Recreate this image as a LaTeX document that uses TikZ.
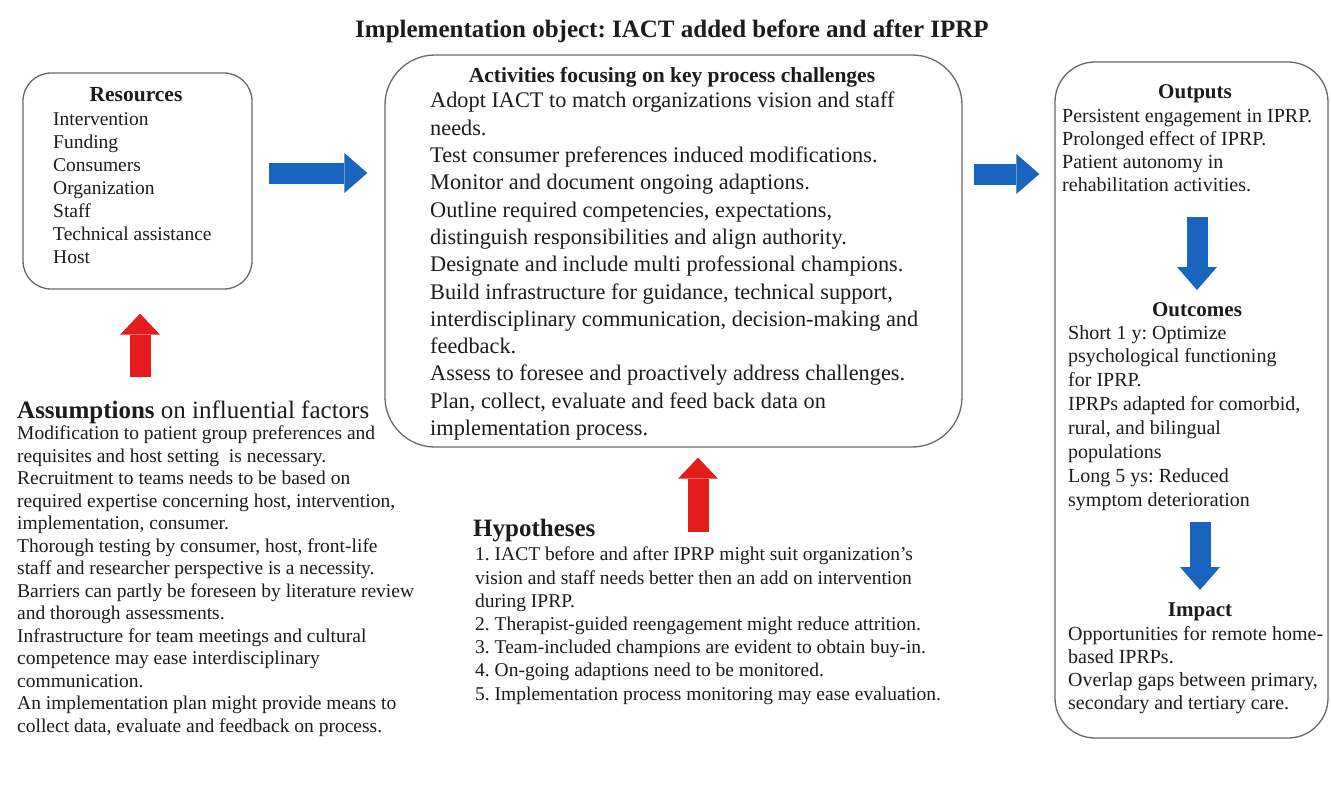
\documentclass[tikz,border=0pt]{standalone}
\usepackage{fontspec}
\setmainfont{Liberation Serif}
\usetikzlibrary{arrows.meta,calc}
\definecolor{arrowblue}{RGB}{24,100,190}
\definecolor{arrowred}{RGB}{228,28,28}
\definecolor{boxgray}{RGB}{105,105,105}
\definecolor{textcol}{RGB}{28,28,28}
\frenchspacing
\begin{document}
\begin{tikzpicture}[x=1pt,y=-1pt,
  frame/.style={draw=boxgray, line width=1.3pt, inner sep=0pt},
  ttl/.style={font=\fontsize{21.5}{25}\selectfont\bfseries, text=textcol, inner sep=0pt, anchor=base},
  body/.style={font=\fontsize{19.5}{23}\selectfont, text=textcol, inner sep=0pt, anchor=north west, align=left},
  head/.style={font=\fontsize{25}{28}\selectfont, text=textcol, inner sep=0pt, anchor=base west},
  barrow/.style={draw=arrowblue, line width=21pt, -{Triangle[width=40pt,length=23pt,line width=0pt,fill=arrowblue]}},
  rarrow/.style={draw=arrowred, line width=21pt, -{Triangle[width=40pt,length=21pt,line width=0pt,fill=arrowred]}}]
\useasboundingbox (0,0) rectangle (1331,785);
\fill[white] (0,0) rectangle (1331,785);

% title
\node[font=\fontsize{25}{28}\selectfont\bfseries, text=textcol, inner sep=0pt, anchor=base] (title) at (672,37) {Implementation object: IACT added before and after IPRP};

% frames
\node[frame, rounded corners=28pt, minimum width=229pt, minimum height=216pt] (res) at (137.5,181) {};
\node[frame, rounded corners=50pt, minimum width=577pt, minimum height=392pt] (act) at (673.5,251) {};
\node[frame, rounded corners=40pt, minimum width=273pt, minimum height=676pt] (out) at (1191.5,400) {};

% resources
\node[ttl] (restitle) at (136,101) {Resources};
\node[body] (restext) at (53,112) {Intervention\\Funding\\Consumers\\Organization\\Staff\\Technical assistance\\Host};

% activities
\node[ttl] (acttitle) at (672,82) {Activities focusing on key process challenges};
\node[body, font=\fontsize{22.3}{27.3}\selectfont] (acttext) at (430,92) {Adopt IACT to match organizations vision and staff\\
needs.\\
Test consumer preferences induced modifications.\\
Monitor and document ongoing adaptions.\\
Outline required competencies, expectations,\\
distinguish responsibilities and align authority.\\
Designate and include multi professional champions.\\
Build infrastructure for guidance, technical support,\\
interdisciplinary communication, decision-making and\\
feedback.\\
Assess to foresee and proactively address challenges.\\
Plan, collect, evaluate and feed back data on\\
implementation process.};

% outputs column
\node[ttl, font=\fontsize{21}{25}\selectfont\bfseries] (outtitle) at (1195,98) {Outputs};
\node[body, font=\fontsize{20}{23}\selectfont] (outtext) at (1062,109) {Persistent engagement in IPRP.\\Prolonged effect of IPRP.\\Patient autonomy in\\rehabilitation activities.};
\node[ttl, font=\fontsize{21}{25}\selectfont\bfseries] (outctitle) at (1197,316) {Outcomes};
\node[body, font=\fontsize{20}{23.9}\selectfont] (outctext) at (1068,325) {Short 1 y: Optimize\\psychological functioning\\for IPRP.\\IPRPs adapted for comorbid,\\rural, and bilingual\\populations\\Long 5 ys: Reduced\\symptom deterioration};
\node[ttl, font=\fontsize{21}{25}\selectfont\bfseries] (imptitle) at (1200,616) {Impact};
\node[body, font=\fontsize{20}{23}\selectfont] (imptext) at (1068,626) {Opportunities for remote home-\\based IPRPs.\\Overlap gaps between primary,\\secondary and tertiary care.};

% assumptions
\node[head] (asmtitle) at (17,418) {\textbf{Assumptions} on influential factors};
\node[body, font=\fontsize{19.5}{22.5}\selectfont] (asmtext) at (17,426) {Modification to patient group preferences and\\
requisites and host setting\ \ is necessary.\\
Recruitment to teams needs to be based on\\
required expertise concerning host, intervention,\\
implementation, consumer.\\
Thorough testing by consumer, host, front-life\\
staff and researcher perspective is a necessity.\\
Barriers can partly be foreseen by literature review\\
and thorough assessments.\\
Infrastructure for team meetings and cultural\\
competence may ease interdisciplinary\\
communication.\\
An implementation plan might provide means to\\
collect data, evaluate and feedback on process.};

% hypotheses
\node[head, font=\fontsize{25}{28}\selectfont\bfseries] (hyptitle) at (473,536) {Hypotheses};
\node[body, font=\fontsize{19.5}{23.2}\selectfont] (hyptext) at (475,547) {1. IACT before and after IPRP might suit organization’s\\
vision and staff needs better then an add on intervention\\
during IPRP.\\
2. Therapist-guided reengagement might reduce attrition.\\
3. Team-included champions are evident to obtain buy-in.\\
4. On-going adaptions need to be monitored.\\
5. Implementation process monitoring may ease evaluation.};

% arrow end points
\coordinate (b1s) at ($(res.east)+(16,-8)$);
\coordinate (b1e) at ($(act.west)+(-17,-78)$);
\coordinate (b2s) at ($(act.east)+(11,-77)$);
\coordinate (b2e) at ($(out.west)+(-15,-226)$);
\coordinate (d1s) at (1197,217);
\coordinate (d1e) at (1197,290);
\coordinate (d2s) at (1200,522);
\coordinate (d2e) at (1200,590);
\coordinate (r1s) at (140,377);
\coordinate (r1e) at ($(res.south)+(2.5,24)$);
\coordinate (r2s) at (698,532);
\coordinate (r2e) at ($(act.south)+(24.5,10)$);

\draw[barrow] (b1s) -- (b1e);
\draw[barrow] (b2s) -- (b2e);
\draw[barrow] (d1s) -- (d1e);
\draw[barrow] (d2s) -- (d2e);
\draw[rarrow] (r1s) -- (r1e);
\draw[rarrow] (r2s) -- (r2e);
\end{tikzpicture}
\end{document}
